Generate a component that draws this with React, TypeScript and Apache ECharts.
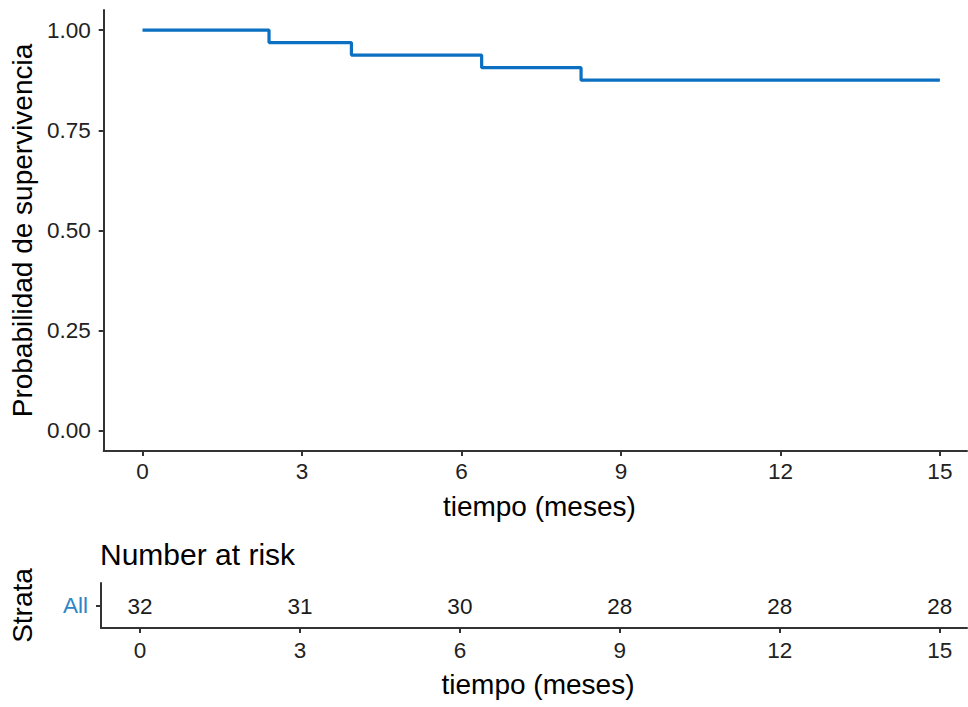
import React, { useEffect, useRef } from "react";
import * as echarts from "echarts";

const timeTicks = [0, 3, 6, 9, 12, 15];
const survTimes = [0, 2.38, 3.93, 6.38, 8.25, 15];
const survValues = [1, 0.96875, 0.9375, 0.90625, 0.875, 0.875];
const yTicks = [0, 0.25, 0.5, 0.75, 1];
const strata = ["All"];
const riskTimes = [0, 3, 6, 9, 12, 15];
const riskCounts = [32, 31, 30, 28, 28, 28];

const FONT = "'Liberation Sans', Arial, sans-serif";
const AX = "#333333";
const TICK_FS = 22.5;

export default function App() {
  const ref = useRef<HTMLDivElement>(null);
  useEffect(() => {
    if (!ref.current) return;
    const chart = echarts.init(ref.current, undefined, { renderer: "svg" });
    const axisLine = { show: true, lineStyle: { color: AX, width: 2 } };
    const xAxisCommon = (gridIndex: number, nameGap: number, margin: number) => ({
      type: "value",
      gridIndex,
      min: -0.73,
      max: 15.51,
      axisLine: { ...axisLine, onZero: false },
      splitLine: { show: false },
      axisTick: { show: true, length: 5, lineStyle: { color: AX, width: 2 }, customValues: timeTicks },
      axisLabel: { customValues: timeTicks, fontSize: TICK_FS, color: "#222", margin, fontFamily: FONT },
      name: "tiempo (meses)",
      nameLocation: "middle",
      nameGap,
      nameTextStyle: { fontSize: 28, color: "#000", fontFamily: FONT, padding: [0, 0, 0, 8] },
    });
    chart.setOption({
      animation: false,
      backgroundColor: "#fff",
      textStyle: { fontFamily: FONT },
      grid: [
        { left: 101, top: 10, right: 1, height: 441 },
        { left: 101, top: 583, right: 1, height: 45 },
      ],
      xAxis: [xAxisCommon(0, 41, 9), xAxisCommon(1, 42, 11)],
      yAxis: [
        {
          type: "value",
          gridIndex: 0,
          min: -0.05,
          max: 1.05,
          axisLine: { ...axisLine, onZero: false },
          splitLine: { show: false },
          axisTick: { show: true, length: 5, lineStyle: { color: AX, width: 2 }, customValues: yTicks },
          axisLabel: {
            customValues: yTicks,
            formatter: (v: number) => v.toFixed(2),
            fontSize: TICK_FS,
            color: "#222",
            margin: 13,
            fontFamily: FONT,
          },
          name: "Probabilidad de supervivencia",
          nameLocation: "middle",
          nameGap: 62,
          nameTextStyle: { fontSize: 28, color: "#000", fontFamily: FONT },
        },
        {
          type: "category",
          gridIndex: 1,
          data: strata,
          axisLine: { ...axisLine, onZero: false },
          splitLine: { show: false },
          axisTick: { show: true, length: 5, alignWithLabel: true, lineStyle: { color: AX, width: 2 } },
          axisLabel: { fontSize: TICK_FS, color: "#2E86C8", margin: 13, fontFamily: FONT },
          name: "Strata",
          nameLocation: "middle",
          nameGap: 65,
          nameTextStyle: { fontSize: 28, color: "#000", fontFamily: FONT },
        },
      ],
      graphic: [
        {
          type: "text",
          left: 100,
          top: 539,
          style: { text: "Number at risk", fontSize: 30, fill: "#000", fontFamily: FONT },
        },
      ],
      series: [
        {
          type: "line",
          xAxisIndex: 0,
          yAxisIndex: 0,
          step: "end",
          showSymbol: false,
          symbol: "none",
          lineStyle: { color: "#0B6FC2", width: 3.2 },
          itemStyle: { color: "#0B6FC2" },
          data: survTimes.map((t, i) => [t, survValues[i]]),
        },
        {
          type: "custom",
          xAxisIndex: 1,
          yAxisIndex: 1,
          data: riskTimes.map((t, i) => [t, 0, riskCounts[i]]),
          encode: { x: 0, y: 1 },
          renderItem: (params: any, api: any) => {
            const pt = api.coord([api.value(0), api.value(1)]);
            return {
              type: "text",
              x: pt[0],
              y: pt[1] + 1,
              style: {
                text: String(api.value(2)),
                fontSize: TICK_FS,
                fill: "#1a1a1a",
                fontFamily: FONT,
                align: "center",
                verticalAlign: "middle",
              },
            };
          },
        },
      ],
    });
    return () => chart.dispose();
  }, []);
  return (
    <div
      ref={ref}
      style={{ position: "fixed", left: 0, top: 0, width: 968, height: 707, background: "#fff" }}
    />
  );
}
